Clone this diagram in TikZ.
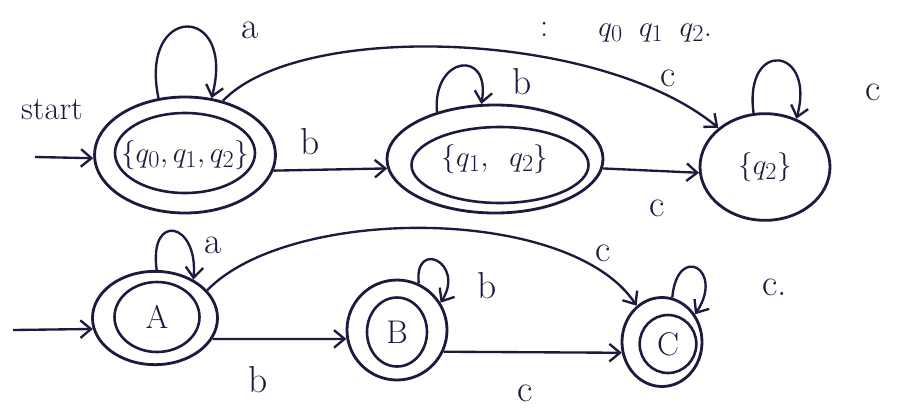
\documentclass[tikz,border=0pt]{standalone}
\usetikzlibrary{shapes.geometric,arrows.meta}
\definecolor{ink}{RGB}{28,26,62}
\begin{document}
\begin{tikzpicture}[x=0.03cm,y=-0.03cm,
  state/.style={ellipse, draw=ink, line width=2.4pt, inner sep=0pt, text=ink, font=\fontsize{28}{32}\selectfont},
  innerring/.style={ellipse, draw=ink, line width=2.2pt, inner sep=0pt, text=ink, font=\fontsize{28}{32}\selectfont},
  tr/.style={draw=ink, line width=2pt, -{Straight Barb[length=9pt,width=15pt]}},
  lbl/.style={text=ink, font=\fontsize{32}{36}\selectfont, inner sep=0pt}]
\useasboundingbox (0,0) rectangle (899,414);
\fill[white] (0,0) rectangle (899,414);
% ---- top row ----
\node[state, minimum width=4.5cm, minimum height=3.48cm] (n1) at (185,155) {$\{q_0,q_1,q_2\}$};
\node[innerring, minimum width=4.2cm, minimum height=2.4cm] (n1i) at (185,153) {};
\node[state, minimum width=6.48cm, minimum height=3.24cm, font=\fontsize{32}{36}\selectfont] (n2) at (495,159) {$\{q_1,\;\;q_2\}$};
\node[innerring, minimum width=5.31cm, minimum height=2.28cm] (n2i) at (500,165) {};
\node[state, minimum width=3.9cm, minimum height=3.2cm, font=\fontsize{32}{36}\selectfont] (n3) at (765,167) {$\{q_2\}$};
\coordinate (s1) at (35,157);
\node[lbl, font=\fontsize{28}{32}\selectfont] (startlbl) at (52,110) {start};
\draw[tr] (s1) -- (n1.182);
\draw[tr] (n1.115) .. controls +(-20,-95) and +(25,-95) .. (n1.65);
\draw[tr] (n1.-10) -- (n2.185);
\draw[tr] (n2.141) .. controls +(-5,-56) and +(10,-56) .. (n2.104);
\draw[tr] (n2.-5) -- (n3.185);
\draw[tr] (n3.102) .. controls +(-10,-75) and +(20,-72) .. (n3.57);
\draw[tr] (n1.55) .. controls (300,20) and (600,30) .. (n3.140);
\node[lbl] (la1) at (250,30) {a};
\node[lbl] (lb1) at (310,142) {b};
\node[lbl] (lb2) at (522,82) {b};
\node[lbl] (lc1) at (668,78) {c};
\node[lbl] (lc2) at (873,92) {c};
\node[lbl] (lc3) at (657,208) {c};
\node[lbl, font=\fontsize{28}{32}\selectfont, anchor=west] (note) at (540,32) {:\hspace{1.5cm}$q_0\;\;q_1\;\;q_2$.};
% ---- bottom row ----
\node[state, minimum width=3.75cm, minimum height=2.8cm] (A) at (155,318) {};
\node[innerring, minimum width=2.55cm, minimum height=2.1cm] (Ai) at (157,317) {A};
\node[state, minimum width=3.0cm, minimum height=3.0cm] (B) at (397,330) {};
\node[innerring, minimum width=1.8cm, minimum height=2.07cm] (Bi) at (397,332) {B};
\node[state, minimum width=2.4cm, minimum height=2.67cm] (C) at (662,342) {};
\node[innerring, minimum width=1.7cm, minimum height=1.74cm] (Ci) at (668,344) {C};
\coordinate (s2) at (13,330);
\draw[tr] (s2) -- (A.190);
\draw[tr] (A.88) .. controls +(-8,-58) and +(5,-58) .. (A.45);
\draw[tr] (A.-20) -- (B.190);
\draw[tr] (B.65) .. controls +(-5,-45) and +(25,-40) .. (B.32);
\draw[tr] (B.-25) -- (C.195);
\draw[tr] (C.77) .. controls +(5,-55) and +(30,-45) .. (C.40);
\draw[tr] (A.28) .. controls (290,205) and (570,205) .. (C.125);
\node[lbl] (la2) at (213,245) {a};
\node[lbl] (lb3) at (258,380) {b};
\node[lbl] (lb4) at (487,286) {b};
\node[lbl] (lc4) at (603,253) {c};
\node[lbl] (lc5) at (775,287) {c.};
\node[lbl] (lc6) at (525,393) {c};
\end{tikzpicture}
\end{document}
